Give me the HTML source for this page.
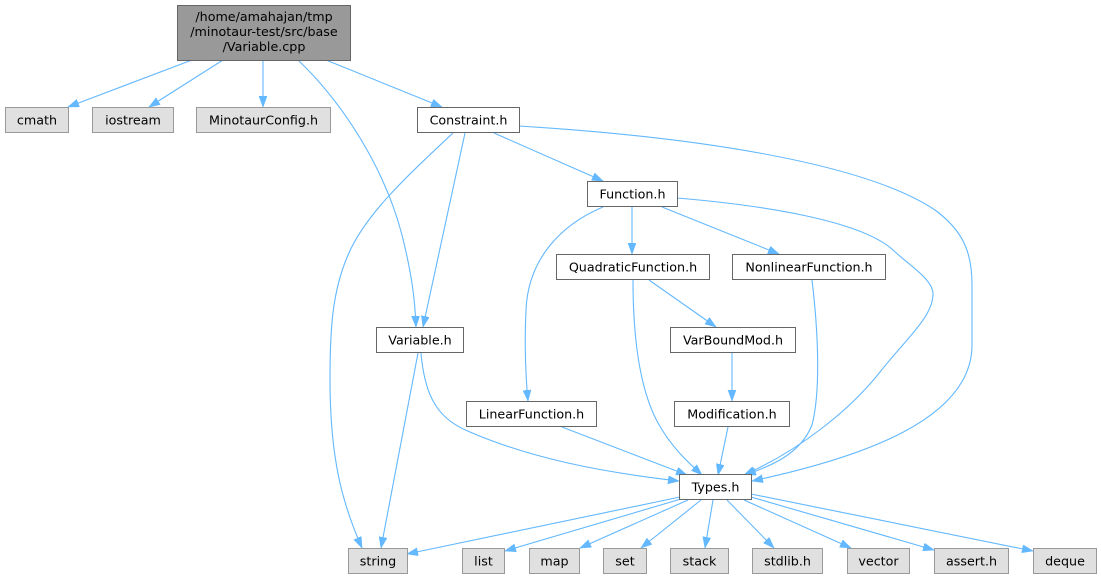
<!DOCTYPE html>
<html><head><meta charset="utf-8"><style>
html,body{margin:0;padding:0;background:#fff;}
svg{display:block;}
text{font-family:"DejaVu Sans","Liberation Sans",sans-serif;font-size:12.7px;fill:#000;}
</style></head><body>
<svg width="1101" height="579" viewBox="0 0 1101 579" xmlns="http://www.w3.org/2000/svg">
<defs>
<marker id="a" markerUnits="userSpaceOnUse" markerWidth="12" markerHeight="9" refX="11" refY="4" orient="auto">
<path d="M0,0 L11,4 L0,8 z" fill="#63b8ff" stroke="#63b8ff" stroke-width="0.6"/>
</marker>
</defs>
<g fill="none" stroke="#63b8ff" stroke-width="1.1" marker-end="url(#a)">
<path d="M192,60 L68,107"/>
<path d="M223,60 L149,107"/>
<path d="M263,60 L263,107"/>
<path d="M298,60 C345,105 385,170 402,235 C412,275 415,300 416,327"/>
<path d="M326,60 L442,107"/>
<path d="M494,133 L603,181"/>
<path d="M519,126 C680,136 860,160 935,210 C965,232 972,255 972,285 L972,345 C972,420 860,458 752,481"/>
<path d="M465,133 L423,327"/>
<path d="M453,133 C405,178 365,215 348,255 C332,292 330,330 330,380 C330,460 343,505 362,548"/>
<path d="M632,207 L632,254"/>
<path d="M662,207 L779,254"/>
<path d="M603,207 C560,225 528,260 526,310 C524,350 526,380 528,401"/>
<path d="M677,198 C760,205 860,220 893,250 C910,266 934,280 933,295 C932,318 905,340 880,372 C850,410 800,450 744,475"/>
<path d="M812,280 C818,330 821,390 812,425 C800,455 770,466 745,475"/>
<path d="M649,280 L716,327"/>
<path d="M633,280 C633,340 640,390 658,423 C672,448 688,462 702,475"/>
<path d="M732,353 L732,401"/>
<path d="M728,427 L718,475"/>
<path d="M562,427 L687,475"/>
<path d="M418,353 L381,548"/>
<path d="M421,353 C425,400 440,420 470,432 C530,458 600,472 679,481"/>
<path d="M680,497 L407,554"/>
<path d="M681,499 L505,551"/>
<path d="M688,500 L580,548"/>
<path d="M701,500 L641,548"/>
<path d="M713,500 L705,548"/>
<path d="M727,500 L774,548"/>
<path d="M744,500 L851,548"/>
<path d="M751,497 L934,550"/>
<path d="M751,494 L1033,551"/>
</g>

<!-- main node -->
<rect x="177.5" y="5.5" width="173" height="55" fill="#999999" stroke="#666666"/>
<text x="264" y="21" text-anchor="middle">/home/amahajan/tmp</text>
<text x="264" y="36" text-anchor="middle">/minotaur-test/src/base</text>
<text x="264" y="51" text-anchor="middle">/Variable.cpp</text>

<!-- grey nodes -->
<g fill="#e0e0e0" stroke="#999999">
<rect x="5.5" y="107.5" width="63" height="25"/>
<rect x="92.5" y="107.5" width="81" height="25"/>
<rect x="196.5" y="107.5" width="134" height="25"/>
<rect x="348.5" y="548.5" width="59" height="25"/>
<rect x="462.5" y="548.5" width="42" height="25"/>
<rect x="529.5" y="548.5" width="50" height="25"/>
<rect x="603.5" y="548.5" width="43" height="25"/>
<rect x="670.5" y="548.5" width="58" height="25"/>
<rect x="752.5" y="548.5" width="70" height="25"/>
<rect x="847.5" y="548.5" width="62" height="25"/>
<rect x="934.5" y="548.5" width="74" height="25"/>
<rect x="1033.5" y="548.5" width="63" height="25"/>
</g>
<!-- white nodes -->
<g fill="#ffffff" stroke="#666666">
<rect x="417.5" y="107.5" width="102" height="25"/>
<rect x="587.5" y="181.5" width="90" height="25"/>
<rect x="556.5" y="254.5" width="153" height="25"/>
<rect x="732.5" y="254.5" width="153" height="25"/>
<rect x="376.5" y="327.5" width="87" height="25"/>
<rect x="670.5" y="327.5" width="125" height="25"/>
<rect x="466.5" y="401.5" width="130" height="25"/>
<rect x="674.5" y="401.5" width="115" height="25"/>
<rect x="679.5" y="474.5" width="72" height="25"/>
</g>

<g text-anchor="middle">
<text x="37" y="124.5">cmath</text>
<text x="133" y="124.5">iostream</text>
<text x="263.5" y="124.5">MinotaurConfig.h</text>
<text x="468.5" y="124.5">Constraint.h</text>
<text x="632.5" y="198.5">Function.h</text>
<text x="633" y="271.5">QuadraticFunction.h</text>
<text x="809" y="271.5">NonlinearFunction.h</text>
<text x="420" y="344.5">Variable.h</text>
<text x="733" y="344.5">VarBoundMod.h</text>
<text x="531.5" y="418.5">LinearFunction.h</text>
<text x="732" y="418.5">Modification.h</text>
<text x="715.5" y="491.5">Types.h</text>
<text x="378" y="565.5">string</text>
<text x="483.5" y="565.5">list</text>
<text x="554.5" y="565.5">map</text>
<text x="625" y="565.5">set</text>
<text x="699.5" y="565.5">stack</text>
<text x="787.5" y="565.5">stdlib.h</text>
<text x="878.5" y="565.5">vector</text>
<text x="971.5" y="565.5">assert.h</text>
<text x="1065" y="565.5">deque</text>
</g>
</svg>
</body></html>
